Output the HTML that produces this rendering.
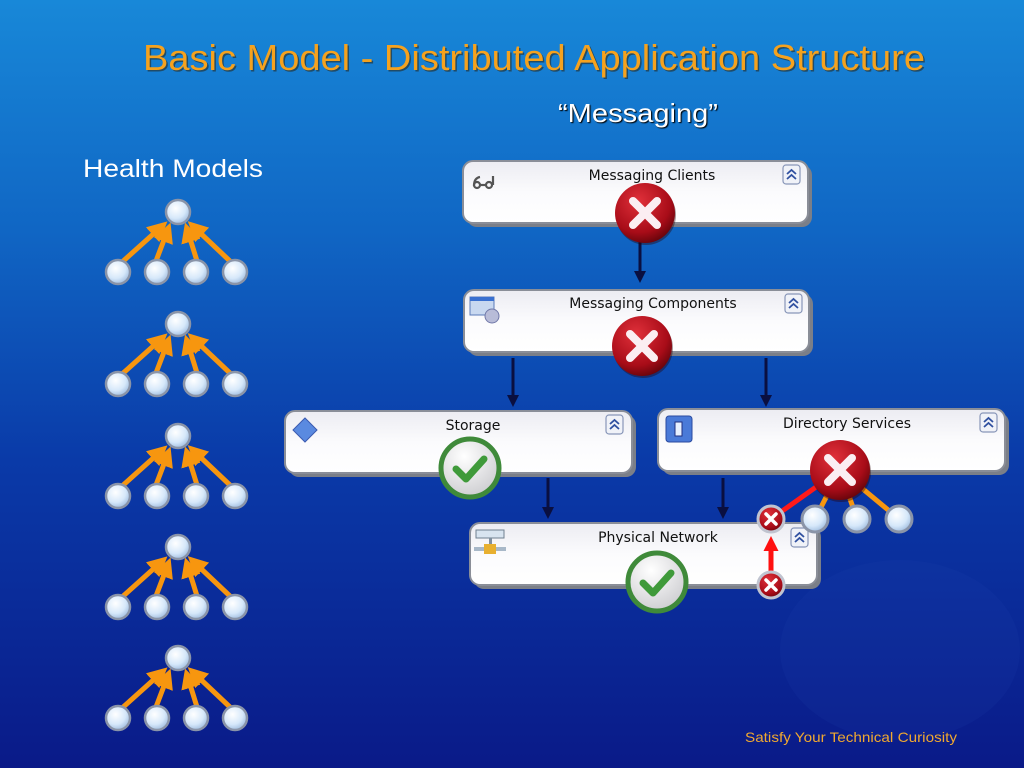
<!DOCTYPE html>
<html><head><meta charset="utf-8"><style>
html,body{margin:0;padding:0;width:1024px;height:768px;overflow:hidden;background:#0a2a9a}
svg{display:block}
</style></head><body>
<svg width="1024" height="768" viewBox="0 0 1024 768" xmlns="http://www.w3.org/2000/svg">
<defs>
<linearGradient id="bg" x1="0" y1="0" x2="0" y2="1">
<stop offset="0" stop-color="#1888d8"/>
<stop offset="0.3" stop-color="#1066c4"/>
<stop offset="0.6" stop-color="#0a3aa8"/>
<stop offset="1" stop-color="#0a1a88"/>
</linearGradient>
<radialGradient id="node" cx="0.4" cy="0.35" r="0.7">
<stop offset="0" stop-color="#ffffff"/>
<stop offset="0.6" stop-color="#d6e8fa"/>
<stop offset="1" stop-color="#9ab8dc"/>
</radialGradient>
<radialGradient id="red" cx="0.4" cy="0.3" r="0.75">
<stop offset="0" stop-color="#e0303a"/>
<stop offset="0.7" stop-color="#a80c18"/>
<stop offset="1" stop-color="#60040a"/>
</radialGradient>
<radialGradient id="wht" cx="0.4" cy="0.3" r="0.8">
<stop offset="0" stop-color="#ffffff"/>
<stop offset="1" stop-color="#c8c8cc"/>
</radialGradient>
<linearGradient id="box" x1="0" y1="0" x2="0" y2="1">
<stop offset="0" stop-color="#ececf2"/>
<stop offset="0.5" stop-color="#fbfbfd"/>
<stop offset="1" stop-color="#ffffff"/>
</linearGradient>
<marker id="oa" markerWidth="4" markerHeight="4" refX="2" refY="2" orient="auto" markerUnits="strokeWidth"><path d="M0,0 L4,2 L0,4 z" fill="#f7960f"/></marker>
<marker id="na" markerWidth="4" markerHeight="4" refX="1" refY="2" orient="auto" markerUnits="strokeWidth"><path d="M0,0 L4,2 L0,4 z" fill="#0a0f40"/></marker>
<marker id="ra" markerWidth="3" markerHeight="3" refX="1" refY="1.5" orient="auto" markerUnits="strokeWidth"><path d="M0,0 L3,1.5 L0,3 z" fill="#ff1010"/></marker>
<g id="tree">
<g stroke="#f7960f" stroke-width="5" fill="none">
<line x1="121" y1="263" x2="160" y2="228" marker-end="url(#oa)"/>
<line x1="156" y1="261" x2="167" y2="232" marker-end="url(#oa)"/>
<line x1="197" y1="261" x2="188" y2="232" marker-end="url(#oa)"/>
<line x1="232" y1="263" x2="195" y2="228" marker-end="url(#oa)"/>
</g>
<g fill="url(#node)" stroke="#8a94a8" stroke-width="2.5">
<circle cx="178" cy="212" r="12"/>
<circle cx="118" cy="272" r="12"/>
<circle cx="157" cy="272" r="12"/>
<circle cx="196" cy="272" r="12"/>
<circle cx="235" cy="272" r="12"/>
</g>
</g>
<g id="xbig">
<circle r="30" fill="#2a0004" opacity="0.4" cx="1" cy="2"/>
<circle r="30" fill="url(#red)"/>
<path d="M-12,-12 L12,12 M12,-12 L-12,12" stroke="#fbeef2" stroke-width="8" stroke-linecap="round"/>
</g>
<g id="ok">
<circle r="29" fill="url(#wht)" stroke="#3f8a3a" stroke-width="5"/>
<path d="M-14,1 L-4,11 L14,-9" fill="none" stroke="#3f9a3a" stroke-width="7" stroke-linecap="round" stroke-linejoin="round"/>
</g>
<g id="xs">
<circle r="13" fill="url(#red)" stroke="#c0c4d0" stroke-width="3"/>
<path d="M-5,-5 L5,5 M5,-5 L-5,5" stroke="#fff" stroke-width="3.5" stroke-linecap="round"/>
</g>
<g id="coll">
<rect x="0" y="0" width="17" height="19" rx="3" fill="#f0f2f8" stroke="#8896b8" stroke-width="1.2"/>
<path d="M4,9 L8.5,5 L13,9 M4,14 L8.5,10 L13,14" fill="none" stroke="#3050a0" stroke-width="1.8"/>
</g>
</defs>
<rect width="1024" height="768" fill="url(#bg)"/>
<ellipse cx="900" cy="650" rx="120" ry="90" fill="#2a4ab8" opacity="0.12"/>

<text x="534" y="70" text-anchor="middle" font-family="Liberation Sans, sans-serif" font-size="36" fill="#2a1a00" opacity="0.5" textLength="782" lengthAdjust="spacingAndGlyphs" transform="translate(1.5,1.5)">Basic Model - Distributed Application Structure</text>
<text x="534" y="70" text-anchor="middle" font-family="Liberation Sans, sans-serif" font-size="36" fill="#f5a21e" textLength="782" lengthAdjust="spacingAndGlyphs">Basic Model - Distributed Application Structure</text>
<text x="638" y="122" text-anchor="middle" font-family="Liberation Sans, sans-serif" font-size="26" fill="#fff" textLength="160" lengthAdjust="spacingAndGlyphs" style="text-shadow:1px 1px 1px #000">“Messaging”</text>
<text x="83" y="177" font-family="Liberation Sans, sans-serif" font-size="25" fill="#fff" textLength="180" lengthAdjust="spacingAndGlyphs">Health Models</text>

<use href="#tree"/>
<use href="#tree" y="112"/>
<use href="#tree" y="224"/>
<use href="#tree" y="335"/>
<use href="#tree" y="446"/>

<g stroke="#0a0f40" stroke-width="3">
<line x1="640" y1="240" x2="640" y2="274" marker-end="url(#na)"/>
<line x1="513" y1="358" x2="513" y2="398" marker-end="url(#na)"/>
<line x1="766" y1="358" x2="766" y2="398" marker-end="url(#na)"/>
<line x1="548" y1="478" x2="548" y2="510" marker-end="url(#na)"/>
<line x1="723" y1="478" x2="723" y2="510" marker-end="url(#na)"/>
</g>

<g font-family="DejaVu Sans, sans-serif" font-size="14" fill="#111" text-anchor="middle">
<rect x="467" y="165" width="345" height="62" rx="10" fill="#7b7f88"/>
<rect x="463" y="161" width="345" height="62" rx="10" fill="url(#box)" stroke="#8a8e98" stroke-width="2"/>
<text x="652" y="180">Messaging Clients</text>
<use href="#coll" x="783" y="165"/>
<g fill="none" stroke="#555" stroke-width="2.2">
<path d="M474,186 q0,-8 6,-9"/><circle cx="477" cy="185" r="3"/>
<path d="M493,176 v9"/><circle cx="489" cy="185" r="3"/>
<path d="M480,185 h6"/>
</g>

<rect x="468" y="294" width="345" height="62" rx="10" fill="#7b7f88"/>
<rect x="464" y="290" width="345" height="62" rx="10" fill="url(#box)" stroke="#8a8e98" stroke-width="2"/>
<text x="653" y="308">Messaging Components</text>
<use href="#coll" x="785" y="294"/>
<rect x="470" y="297" width="24" height="18" fill="#c8d8f0" stroke="#5a7ab8"/>
<rect x="470" y="297" width="24" height="4" fill="#3a70d0"/>
<circle cx="492" cy="316" r="7" fill="#b8bcd8" stroke="#7078a8"/>

<rect x="289" y="415" width="347" height="62" rx="10" fill="#7b7f88"/>
<rect x="285" y="411" width="347" height="62" rx="10" fill="url(#box)" stroke="#8a8e98" stroke-width="2"/>
<text x="473" y="430">Storage</text>
<use href="#coll" x="606" y="415"/>
<path d="M305,418 L317,430 L305,442 L293,430 z" fill="#5a8ae0" stroke="#3a5ab0"/>

<rect x="662" y="413" width="347" height="62" rx="10" fill="#7b7f88"/>
<rect x="658" y="409" width="347" height="62" rx="10" fill="url(#box)" stroke="#8a8e98" stroke-width="2"/>
<text x="847" y="428">Directory Services</text>
<use href="#coll" x="980" y="413"/>
<rect x="666" y="416" width="26" height="26" rx="3" fill="#4a7ad8" stroke="#2a4aa0"/>
<rect x="675" y="422" width="7" height="14" fill="#e8f0ff" stroke="#203080"/>

<rect x="474" y="527" width="347" height="62" rx="10" fill="#7b7f88"/>
<rect x="470" y="523" width="347" height="62" rx="10" fill="url(#box)" stroke="#8a8e98" stroke-width="2"/>
<text x="658" y="542">Physical Network</text>
<use href="#coll" x="791" y="528"/>
<rect x="476" y="530" width="28" height="8" fill="#d8e4f0" stroke="#708090"/>
<rect x="489" y="538" width="3" height="8" fill="#8090a0"/>
<rect x="474" y="547" width="32" height="4" fill="#a8b8c8"/>
<rect x="484" y="544" width="12" height="10" fill="#e8b030"/>
</g>

<use href="#xbig" x="645" y="213"/>
<use href="#xbig" x="642" y="346"/>
<use href="#ok" x="470" y="468"/>
<use href="#ok" x="657" y="582"/>

<g stroke-width="5">
<line x1="840" y1="470" x2="771" y2="519" stroke="#ff1a1a"/>
<line x1="840" y1="470" x2="815" y2="519" stroke="#f7960f"/>
<line x1="840" y1="470" x2="857" y2="519" stroke="#f7960f"/>
<line x1="840" y1="470" x2="899" y2="519" stroke="#f7960f"/>
</g>
<line x1="771" y1="572" x2="771" y2="546" stroke="#ff1010" stroke-width="5" marker-end="url(#ra)"/>
<use href="#xbig" x="840" y="470"/>
<g fill="url(#node)" stroke="#8a94a8" stroke-width="3">
<circle cx="815" cy="519" r="13"/>
<circle cx="857" cy="519" r="13"/>
<circle cx="899" cy="519" r="13"/>
</g>
<use href="#xs" x="771" y="519"/>
<use href="#xs" x="771" y="585"/>

<text x="851" y="742" text-anchor="middle" font-family="Liberation Sans, sans-serif" font-size="14" fill="#f0a830" textLength="212" lengthAdjust="spacingAndGlyphs">Satisfy Your Technical Curiosity</text>
</svg>
</body></html>
